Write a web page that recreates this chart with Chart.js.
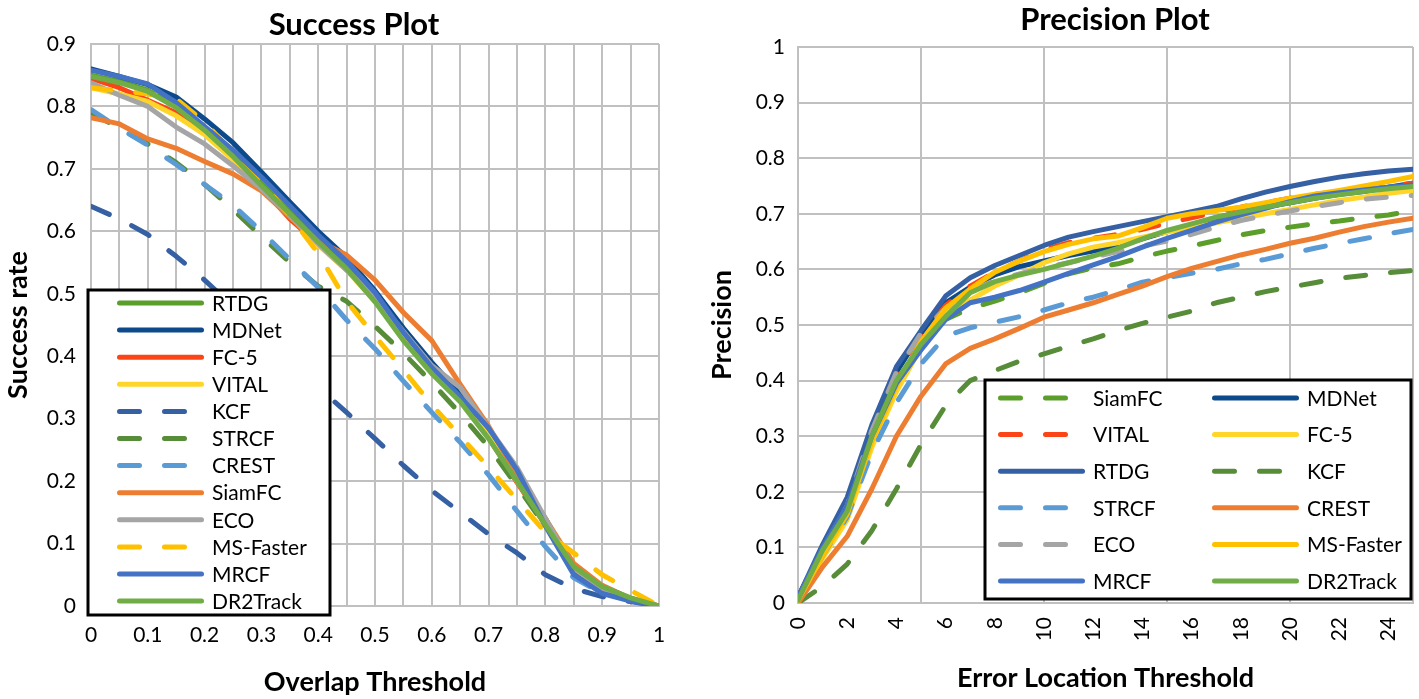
<!DOCTYPE html>
<html lang="en">
<head>
<meta charset="UTF-8">
<title>Success Plot / Precision Plot</title>
<script src="https://cdn.jsdelivr.net/npm/chart.js"></script>
<style>
  body { margin: 0; background: #fff; }
  #successChart { position: absolute; left: 0; top: 0; }
  #precisionChart { position: absolute; left: 700px; top: 0; }
</style>
</head>
<body>
<canvas id="successChart" width="700" height="699"></canvas>
<canvas id="precisionChart" width="719" height="699"></canvas>

<script>
// ---- Success plot (overlap threshold 0..1) ----
const overlapX = [0, 0.05, 0.1, 0.15, 0.2, 0.25, 0.3, 0.35, 0.4, 0.45, 0.5, 0.55, 0.6, 0.65, 0.7, 0.75, 0.8, 0.85, 0.9, 0.95, 1];

const succRTDG     = [0.850, 0.840, 0.826, 0.800, 0.765, 0.722, 0.676, 0.630, 0.585, 0.543, 0.490, 0.432, 0.378, 0.330, 0.272, 0.205, 0.135, 0.062, 0.030, 0.012, 0];
const succMDNet    = [0.860, 0.848, 0.835, 0.815, 0.780, 0.742, 0.695, 0.647, 0.600, 0.558, 0.505, 0.445, 0.390, 0.340, 0.282, 0.210, 0.140, 0.058, 0.024, 0.010, 0];
const succFC5      = [0.845, 0.830, 0.810, 0.790, 0.760, 0.718, 0.670, 0.620, 0.580, 0.540, 0.490, 0.432, 0.375, 0.330, 0.270, 0.198, 0.130, 0.060, 0.028, 0.011, 0];
const succVITAL    = [0.830, 0.820, 0.808, 0.785, 0.755, 0.715, 0.668, 0.625, 0.578, 0.538, 0.488, 0.430, 0.378, 0.332, 0.272, 0.200, 0.132, 0.062, 0.030, 0.012, 0];
const succKCF      = [0.640, 0.620, 0.595, 0.560, 0.522, 0.480, 0.435, 0.392, 0.350, 0.310, 0.268, 0.225, 0.185, 0.150, 0.115, 0.085, 0.050, 0.028, 0.015, 0.007, 0];
const succSTRCF    = [0.790, 0.765, 0.740, 0.710, 0.675, 0.635, 0.592, 0.550, 0.512, 0.488, 0.448, 0.405, 0.358, 0.308, 0.255, 0.192, 0.128, 0.060, 0.030, 0.012, 0];
const succCREST    = [0.795, 0.765, 0.738, 0.707, 0.675, 0.642, 0.600, 0.555, 0.510, 0.458, 0.412, 0.360, 0.310, 0.262, 0.210, 0.152, 0.095, 0.045, 0.020, 0.010, 0];
const succSiamFC   = [0.782, 0.772, 0.748, 0.733, 0.712, 0.692, 0.665, 0.623, 0.585, 0.562, 0.522, 0.470, 0.425, 0.355, 0.288, 0.210, 0.140, 0.068, 0.033, 0.012, 0];
const succECO      = [0.838, 0.818, 0.800, 0.767, 0.740, 0.705, 0.668, 0.625, 0.580, 0.538, 0.495, 0.440, 0.385, 0.350, 0.285, 0.222, 0.140, 0.060, 0.028, 0.010, 0];
const succMSFaster = [0.830, 0.825, 0.820, 0.812, 0.775, 0.725, 0.680, 0.625, 0.565, 0.488, 0.432, 0.378, 0.322, 0.272, 0.222, 0.170, 0.118, 0.085, 0.050, 0.025, 0];
const succMRCF     = [0.858, 0.848, 0.836, 0.806, 0.768, 0.730, 0.687, 0.641, 0.594, 0.552, 0.502, 0.438, 0.382, 0.335, 0.285, 0.218, 0.128, 0.050, 0.020, 0.008, 0];
const succDR2Track = [0.848, 0.838, 0.824, 0.798, 0.762, 0.720, 0.673, 0.628, 0.583, 0.540, 0.487, 0.425, 0.372, 0.327, 0.268, 0.200, 0.130, 0.063, 0.031, 0.013, 0];

// ---- Precision plot (error location threshold 0..25) ----
const errorX = [0, 1, 2, 3, 4, 5, 6, 7, 8, 9, 10, 11, 12, 13, 14, 15, 16, 17, 18, 19, 20, 21, 22, 23, 24, 25];

const precSiamFC   = [0.005, 0.085, 0.160, 0.290, 0.390, 0.460, 0.510, 0.530, 0.543, 0.558, 0.575, 0.592, 0.603, 0.610, 0.622, 0.633, 0.642, 0.652, 0.662, 0.670, 0.676, 0.682, 0.687, 0.693, 0.698, 0.705];
const precMDNet    = [0.010, 0.095, 0.180, 0.310, 0.415, 0.485, 0.540, 0.568, 0.590, 0.605, 0.615, 0.625, 0.633, 0.642, 0.655, 0.668, 0.680, 0.693, 0.703, 0.712, 0.720, 0.728, 0.735, 0.740, 0.748, 0.755];
const precVITAL    = [0.010, 0.100, 0.180, 0.305, 0.410, 0.480, 0.535, 0.570, 0.595, 0.615, 0.635, 0.648, 0.656, 0.663, 0.672, 0.683, 0.693, 0.703, 0.712, 0.720, 0.728, 0.735, 0.740, 0.745, 0.750, 0.755];
const precFC5      = [0.005, 0.080, 0.150, 0.280, 0.380, 0.460, 0.520, 0.545, 0.570, 0.590, 0.612, 0.628, 0.640, 0.648, 0.658, 0.667, 0.675, 0.684, 0.692, 0.700, 0.708, 0.716, 0.724, 0.730, 0.737, 0.742];
const precRTDG     = [0.010, 0.105, 0.190, 0.320, 0.425, 0.490, 0.552, 0.585, 0.607, 0.625, 0.643, 0.658, 0.668, 0.677, 0.686, 0.695, 0.704, 0.713, 0.727, 0.739, 0.749, 0.758, 0.766, 0.772, 0.777, 0.780];
const precKCF      = [0.000, 0.030, 0.070, 0.130, 0.205, 0.285, 0.355, 0.400, 0.418, 0.435, 0.448, 0.462, 0.475, 0.490, 0.503, 0.514, 0.525, 0.540, 0.550, 0.560, 0.568, 0.576, 0.584, 0.589, 0.594, 0.598];
const precSTRCF    = [0.005, 0.085, 0.155, 0.270, 0.360, 0.430, 0.480, 0.495, 0.505, 0.515, 0.527, 0.540, 0.550, 0.563, 0.577, 0.585, 0.593, 0.600, 0.610, 0.618, 0.628, 0.638, 0.647, 0.655, 0.664, 0.672];
const precCREST    = [0.000, 0.065, 0.120, 0.205, 0.300, 0.372, 0.430, 0.458, 0.475, 0.494, 0.514, 0.527, 0.540, 0.555, 0.570, 0.587, 0.602, 0.614, 0.626, 0.636, 0.647, 0.656, 0.667, 0.677, 0.685, 0.692];
const precECO      = [0.010, 0.090, 0.175, 0.310, 0.415, 0.485, 0.530, 0.560, 0.580, 0.592, 0.603, 0.612, 0.622, 0.632, 0.642, 0.651, 0.663, 0.676, 0.688, 0.697, 0.705, 0.713, 0.720, 0.726, 0.730, 0.733];
const precMSFaster = [0.005, 0.085, 0.160, 0.290, 0.390, 0.470, 0.530, 0.565, 0.595, 0.615, 0.632, 0.645, 0.655, 0.660, 0.675, 0.692, 0.700, 0.706, 0.712, 0.720, 0.728, 0.735, 0.742, 0.750, 0.758, 0.767];
const precMRCF     = [0.010, 0.100, 0.175, 0.300, 0.395, 0.455, 0.510, 0.540, 0.550, 0.562, 0.577, 0.593, 0.608, 0.623, 0.640, 0.656, 0.670, 0.685, 0.698, 0.710, 0.722, 0.732, 0.738, 0.743, 0.748, 0.752];
const precDR2Track = [0.005, 0.095, 0.165, 0.300, 0.400, 0.465, 0.515, 0.558, 0.578, 0.590, 0.600, 0.612, 0.624, 0.638, 0.655, 0.670, 0.682, 0.694, 0.703, 0.712, 0.720, 0.728, 0.734, 0.740, 0.745, 0.749];

const FONT = "Lato, 'Open Sans', sans-serif";
const GRID = '#c0c0c0';
const DASH = [20, 25];

// series: [label, values, color, dashed]
const successSeries = [
    ['RTDG', succRTDG, '#5b9e2a', false],
    ['MDNet', succMDNet, '#0d4a8c', false],
    ['FC-5', succFC5, '#fc4516', false],
    ['VITAL', succVITAL, '#ffd52a', false],
    ['KCF', succKCF, '#3560a3', true],
    ['STRCF', succSTRCF, '#578c38', true],
    ['CREST', succCREST, '#5b9bd5', true],
    ['SiamFC', succSiamFC, '#ed7d31', false],
    ['ECO', succECO, '#a5a5a5', false],
    ['MS-Faster', succMSFaster, '#ffc000', true],
    ['MRCF', succMRCF, '#4472c4', false],
    ['DR2Track', succDR2Track, '#70ad47', false]
];

const precisionSeries = [
    ['SiamFC', precSiamFC, '#5b9e2a', true],
    ['MDNet', precMDNet, '#0d4a8c', false],
    ['VITAL', precVITAL, '#fc4516', true],
    ['FC-5', precFC5, '#ffd52a', false],
    ['RTDG', precRTDG, '#3560a3', false],
    ['KCF', precKCF, '#578c38', true],
    ['STRCF', precSTRCF, '#5b9bd5', true],
    ['CREST', precCREST, '#ed7d31', false],
    ['ECO', precECO, '#a5a5a5', true],
    ['MS-Faster', precMSFaster, '#ffc000', false],
    ['MRCF', precMRCF, '#4472c4', false],
    ['DR2Track', precDR2Track, '#70ad47', false]
];

function makeDatasets(series, xs) {
    // later series are drawn on top, like the spreadsheet chart
    return series.map(function (s, i) {
        return {
            label: s[0],
            data: xs.map(function (x, k) { return { x: x, y: s[1][k] }; }),
            borderColor: s[2],
            backgroundColor: s[2],
            borderWidth: 5,
            borderDash: s[3] ? DASH : [],
            borderCapStyle: 'round',
            borderJoinStyle: 'round',
            pointRadius: 0,
            tension: 0,
            fill: false,
            order: series.length - i
        };
    });
}

// legend drawn as a bordered box inside the plot
const boxLegend = {
    id: 'boxLegend',
    afterDraw(chart, args, o) {
        const ctx = chart.ctx;
        ctx.save();
        ctx.fillStyle = '#fff';
        ctx.fillRect(o.left, o.top, o.width, o.height);
        ctx.lineWidth = 3;
        ctx.strokeStyle = '#000';
        ctx.strokeRect(o.left, o.top, o.width, o.height);
        ctx.font = '21px ' + FONT;
        ctx.textBaseline = 'middle';
        chart.data.datasets.forEach(function (ds, i) {
            const col = i % o.cols;
            const row = Math.floor(i / o.cols);
            const x = o.left + o.firstX + col * o.colWidth;
            const y = o.top + o.firstY + row * o.rowHeight;
            ctx.beginPath();
            ctx.setLineDash(ds.borderDash);
            ctx.lineCap = 'round';
            ctx.lineWidth = ds.borderWidth;
            ctx.strokeStyle = ds.borderColor;
            ctx.moveTo(x + 2.5, y);
            ctx.lineTo(x + o.lineLength - 2.5, y);
            ctx.stroke();
            ctx.setLineDash([]);
            ctx.fillStyle = '#000';
            ctx.fillText(ds.label, x + o.lineLength + 8, y + 1);
        });
        ctx.restore();
    }
};

const plotTitle = {
    id: 'plotTitle',
    afterDraw(chart, args, o) {
        const ctx = chart.ctx;
        ctx.save();
        ctx.font = 'bold 31px ' + FONT;
        ctx.fillStyle = '#000';
        ctx.textAlign = 'center';
        ctx.textBaseline = 'alphabetic';
        ctx.fillText(o.text, o.x, o.y);
        ctx.restore();
    }
};

function fixSize(w, h) {
    return function (scale) {
        if (w !== null) scale.width = w;
        if (h !== null) scale.height = h;
        scale.paddingLeft = 0;
        scale.paddingRight = 0;
        scale.paddingTop = 0;
        scale.paddingBottom = 0;
    };
}

Chart.defaults.font.family = FONT;
Chart.defaults.color = '#000';

new Chart(document.getElementById('successChart'), {
    type: 'line',
    data: { datasets: makeDatasets(successSeries, overlapX) },
    plugins: [boxLegend, plotTitle],
    options: {
        responsive: false,
        animation: false,
        layout: { padding: { top: 44, right: 41, bottom: 0, left: 0 } },
        scales: {
            x: {
                type: 'linear', min: 0, max: 1,
                afterFit: fixSize(null, 93),
                grid: { color: GRID, lineWidth: 2, drawTicks: false },
                border: { color: GRID, width: 2 },
                ticks: {
                    stepSize: 0.05, maxTicksLimit: 30, autoSkip: false,
                    maxRotation: 0, minRotation: 0, padding: 17,
                    font: { size: 21 },
                    callback: function (v) {
                        const n = Math.round(v * 100);
                        return n % 10 === 0 ? String(n / 100) : '';
                    }
                },
                title: { display: true, text: 'Overlap Threshold', font: { size: 27, weight: 'bold' }, padding: { top: 0, bottom: 1 } }
            },
            y: {
                min: 0, max: 0.9,
                afterFit: fixSize(91, null),
                grid: { color: GRID, lineWidth: 2, drawTicks: false },
                border: { color: GRID, width: 2 },
                ticks: {
                    stepSize: 0.1, padding: 15, font: { size: 21 },
                    callback: function (v) { return String(Math.round(v * 10) / 10); }
                },
                title: { display: true, text: 'Success rate', font: { size: 27, weight: 'bold' }, padding: { top: 2, bottom: 0 } }
            }
        },
        plugins: {
            legend: { display: false },
            tooltip: { enabled: false },
            plotTitle: { text: 'Success Plot', x: 354, y: 35 },
            boxLegend: { left: 88, top: 290, width: 242, height: 325, cols: 1, colWidth: 0, firstX: 29, firstY: 13, rowHeight: 27.1, lineLength: 87 }
        }
    }
});

new Chart(document.getElementById('precisionChart'), {
    type: 'line',
    data: { datasets: makeDatasets(precisionSeries, errorX) },
    plugins: [boxLegend, plotTitle],
    options: {
        responsive: false,
        animation: false,
        layout: { padding: { top: 47, right: 6, bottom: 0, left: 0 } },
        scales: {
            x: {
                type: 'linear', min: 0, max: 25,
                afterFit: fixSize(null, 96),
                grid: {
                    lineWidth: 2, drawTicks: false,
                    color: function (c) { return c.tick && c.tick.value % 5 === 0 ? GRID : 'rgba(0,0,0,0)'; }
                },
                border: { color: GRID, width: 2 },
                ticks: {
                    stepSize: 1, maxTicksLimit: 30, autoSkip: false,
                    maxRotation: 90, minRotation: 90, padding: 14,
                    font: { size: 21 },
                    callback: function (v) { return v % 2 === 0 ? String(v) : ''; }
                },
                title: { display: true, text: 'Error Location Threshold', font: { size: 27, weight: 'bold' }, padding: { top: 0, bottom: 5 } }
            },
            y: {
                min: 0, max: 1,
                afterFit: fixSize(98, null),
                grid: { color: GRID, lineWidth: 2, drawTicks: false },
                border: { color: GRID, width: 2 },
                ticks: {
                    stepSize: 0.1, padding: 13, font: { size: 21 },
                    callback: function (v) { return String(Math.round(v * 10) / 10); }
                },
                title: { display: true, text: 'Precision', font: { size: 27, weight: 'bold' }, padding: { top: 6, bottom: 0 } }
            }
        },
        plugins: {
            legend: { display: false },
            tooltip: { enabled: false },
            plotTitle: { text: 'Precision Plot', x: 415, y: 30 },
            boxLegend: { left: 285, top: 380, width: 426, height: 219, cols: 2, colWidth: 214, firstX: 13, firstY: 18, rowHeight: 36.6, lineLength: 87 }
        }
    }
});
</script>
</body>
</html>
